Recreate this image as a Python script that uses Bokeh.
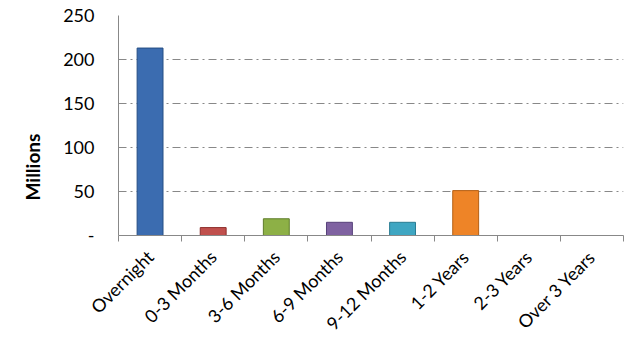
from math import pi
from bokeh.plotting import figure
from bokeh.models import ColumnDataSource, FixedTicker, Range1d, Title
from bokeh.embed import file_html
from bokeh.resources import INLINE

categories = ["Overnight", "0-3 Months", "3-6 Months", "6-9 Months",
              "9-12 Months", "1-2 Years", "2-3 Years", "Over 3 Years"]
values = [213, 9, 19, 15, 15, 51, 0, 0]
colors = ["#3B6CB0", "#C0504D", "#8DB046", "#7F62A1", "#3FA6C2", "#EE8427", "#999999", "#999999"]
borders = ["#254E84", "#8E2F2C", "#5F7D2A", "#57417A", "#2A7C93", "#B45F14", "#777777", "#777777"]
y_ticks = [0, 50, 100, 150, 200, 250]
y_labels = ["-", "50", "100", "150", "200", "250"]
y_title = "Millions"

n = len(categories)
centers = [i + 0.5 for i in range(n)]
src = ColumnDataSource(dict(x=centers, top=values, color=colors, border=borders))

p = figure(width=628, height=345, output_backend="svg", toolbar_location=None,
           x_range=Range1d(0, n), y_range=Range1d(0, 250),
           min_border_left=118, min_border_right=5, min_border_top=15, min_border_bottom=110)
p.outline_line_color = None
p.background_fill_color = "white"

p.vbar(x="x", top="top", width=0.41, bottom=0, source=src,
       fill_color="color", line_color="border", line_width=1)

font = "Lato"
# x axis
p.xaxis.ticker = FixedTicker(ticks=centers, minor_ticks=list(range(n + 1)))
p.xaxis.major_label_overrides = {c: lab for c, lab in zip(centers, categories)}
p.xaxis.major_label_orientation = pi / 4
p.xaxis.major_tick_out = 0
p.xaxis.major_tick_in = 0
p.xaxis.minor_tick_out = 6
p.xaxis.minor_tick_in = 0
p.xaxis.minor_tick_line_color = "#888888"
p.xaxis.axis_line_color = "#888888"
p.xaxis.major_label_text_font = font
p.xaxis.major_label_text_font_size = "18px"
p.xaxis.major_label_text_color = "black"
p.xaxis.major_label_standoff = 12

# y axis
p.yaxis.ticker = FixedTicker(ticks=y_ticks)
p.yaxis.major_label_overrides = {t: l for t, l in zip(y_ticks, y_labels)}
p.yaxis.major_tick_out = 0
p.yaxis.major_tick_in = 0
p.yaxis.minor_tick_line_color = None
p.yaxis.axis_line_color = "#888888"
p.yaxis.major_label_text_font = font
p.yaxis.major_label_text_font_size = "18px"
p.yaxis.major_label_text_color = "black"
p.yaxis.major_label_standoff = 24

p.add_layout(Title(text=y_title, align="left", offset=35, standoff=33,
                   text_font=font, text_font_size="19px", text_font_style="bold",
                   text_color="black"), "left")

p.xgrid.grid_line_color = None
p.ygrid.grid_line_color = "#888888"
p.ygrid.grid_line_dash = "8 4 2 4"
p.ygrid.grid_line_width = 1.2

open("out.html", "w").write(file_html(p, INLINE))
